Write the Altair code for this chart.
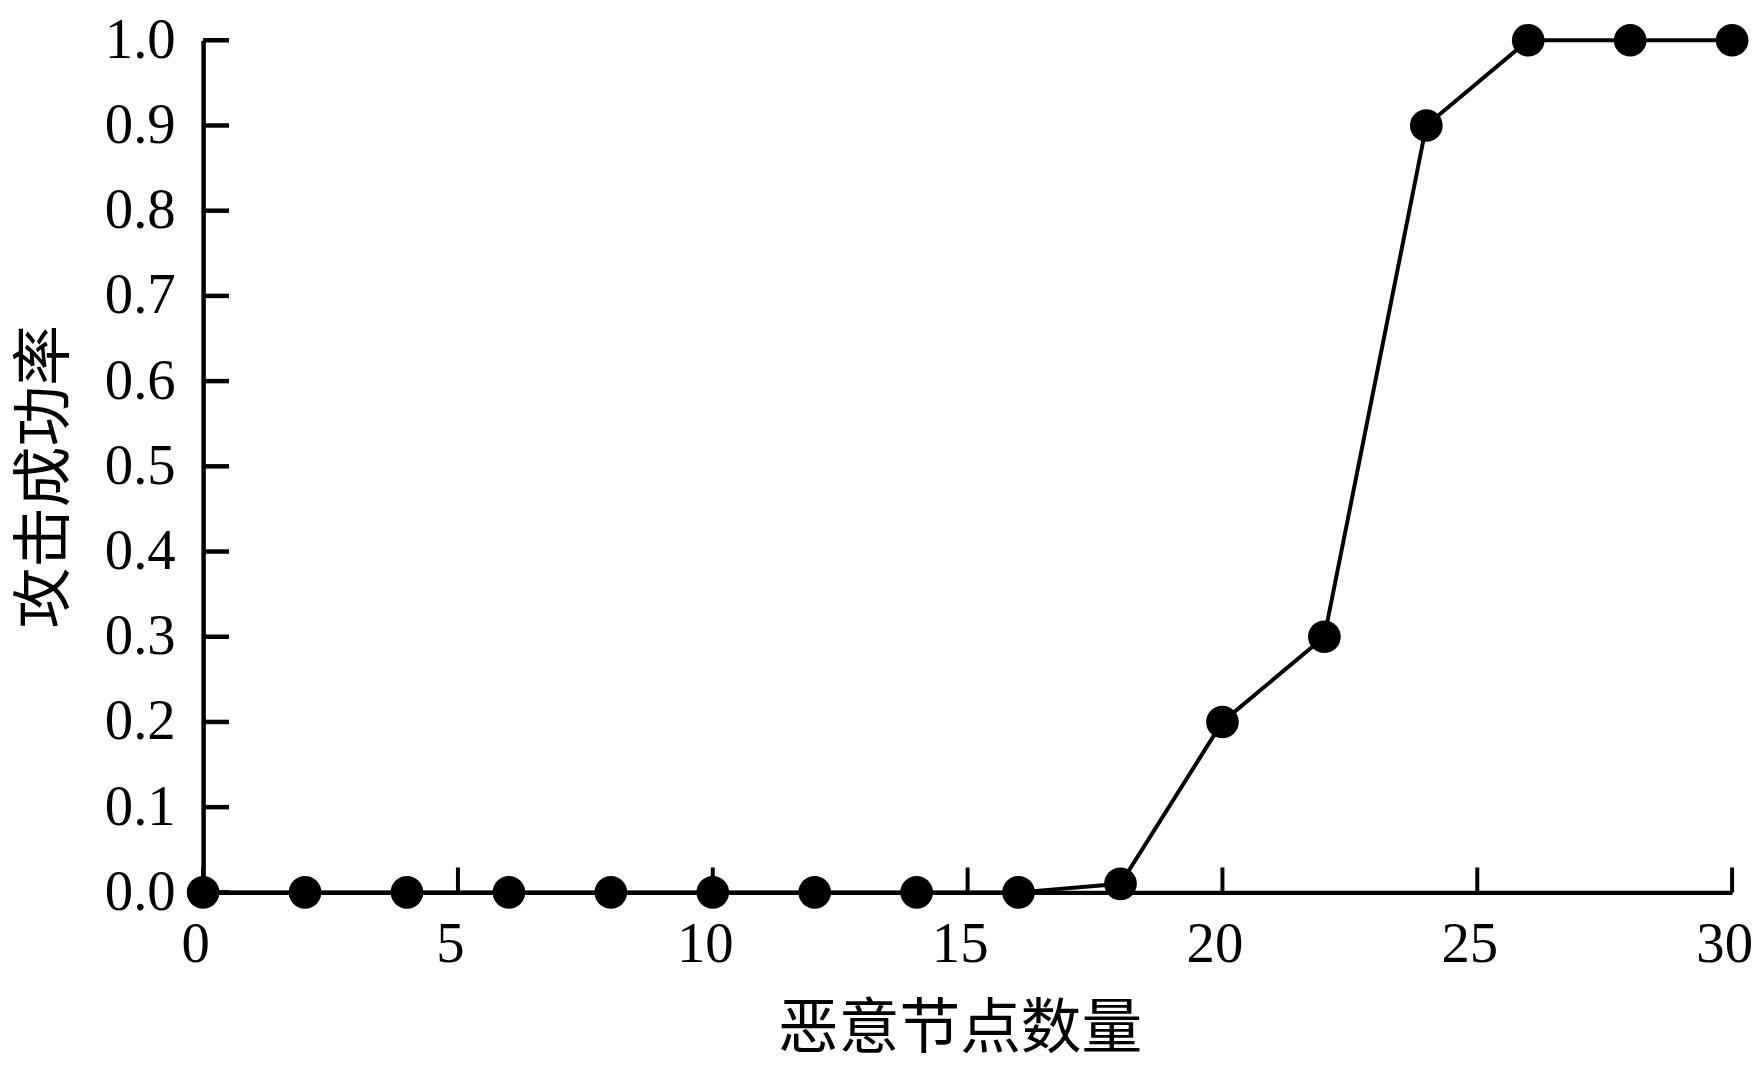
import altair as alt
import pandas as pd

# Data
malicious_nodes = [0, 2, 4, 6, 8, 10, 12, 14, 16, 18, 20, 22, 24, 26, 28, 30]
success_rate = [0.0, 0.0, 0.0, 0.0, 0.0, 0.0, 0.0, 0.0, 0.0, 0.01, 0.2, 0.3, 0.9, 1.0, 1.0, 1.0]
x_ticks = [0, 5, 10, 15, 20, 25, 30]
y_ticks = [0.0, 0.1, 0.2, 0.3, 0.4, 0.5, 0.6, 0.7, 0.8, 0.9, 1.0]

df = pd.DataFrame({"n": malicious_nodes, "rate": success_rate})
xt = pd.DataFrame({"t": x_ticks})
yt = pd.DataFrame({"t": y_ticks})

W, H = 1536, 856
SERIF = "Liberation Serif"
CJK = "Noto Sans CJK SC"
FS = 57

xscale = alt.Scale(domain=[0, 30], nice=False, zero=False)
yscale = alt.Scale(domain=[0, 1], nice=False)

xaxis = alt.Axis(
    values=x_ticks, format="d", ticks=False, grid=False,
    domainColor="black", domainWidth=4.5,
    labelFont=SERIF, labelFontSize=FS, labelColor="black", labelPadding=24,
    labelFlush=False, labelOverlap=False, labelOffset=-8,
    title="恶意节点数量", titleFont=CJK, titleFontSize=61, titleFontWeight="normal",
    titleColor="black", titleBaseline="middle", titleY=138, titleX=W / 2 - 8,
)
yaxis = alt.Axis(
    values=y_ticks, format=".1f", ticks=False, grid=False,
    domainColor="black", domainWidth=4.5,
    labelFont=SERIF, labelFontSize=FS, labelColor="black", labelPadding=28,
    labelOverlap=False, labelFlush=False,
    title="攻击成功率", titleFont=CJK, titleFontSize=61, titleFontWeight="normal",
    titleColor="black", titleAngle=270, titleBaseline="middle",
    titleX=-158, titleY=438,
)

base = alt.Chart(df)

line = base.mark_line(color="black", strokeWidth=4).encode(
    x=alt.X("n:Q", scale=xscale, axis=xaxis),
    y=alt.Y("rate:Q", scale=yscale, axis=yaxis),
)
points = base.mark_circle(color="black", opacity=1, size=1075).encode(
    x=alt.X("n:Q", scale=xscale),
    y=alt.Y("rate:Q", scale=yscale),
)
xticks = alt.Chart(xt).mark_rule(color="black", strokeWidth=4).encode(
    x=alt.X("t:Q", scale=xscale),
    y=alt.value(H),
    y2=alt.value(H - 25),
)
yticks = alt.Chart(yt).mark_rule(color="black", strokeWidth=4.5).encode(
    y=alt.Y("t:Q", scale=yscale),
    x=alt.value(0),
    x2=alt.value(26),
)

chart = alt.layer(line, xticks, yticks, points).properties(
    width=W, height=H,
    background="white",
    autosize=alt.AutoSizeParams(type="none"),
    padding={"left": 196, "top": 30, "right": 23, "bottom": 170},
).configure_view(strokeWidth=0, stroke="transparent").configure_axis(grid=False)

chart.save("out.html", embed_options={"renderer": "svg", "actions": False})
